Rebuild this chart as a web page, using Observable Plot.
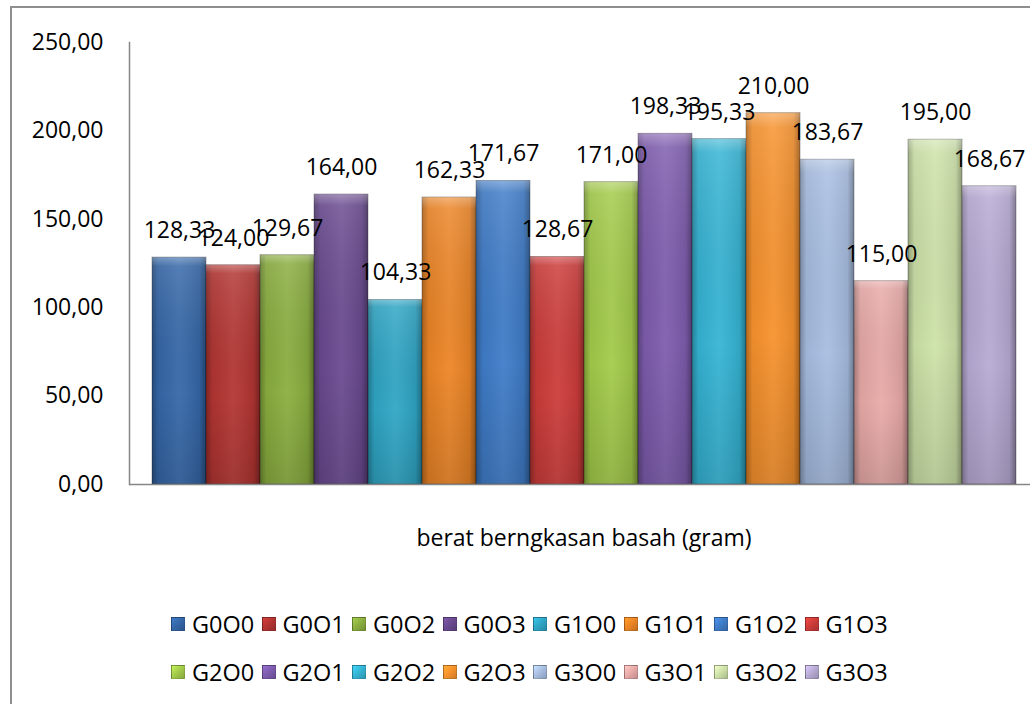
<!DOCTYPE html>
<html>
<head>
<meta charset="utf-8">
<script src="https://cdn.jsdelivr.net/npm/d3@7"></script>
<script src="https://cdn.jsdelivr.net/npm/@observablehq/plot@0.6"></script>
<style>
  html, body { margin: 0; padding: 0; background: #fff; overflow: hidden; width: 1030px; height: 704px; }
  #border { position: absolute; left: 10px; top: 6px; width: 1040px; height: 720px; border: 2px solid #8e8e8e; box-sizing: border-box; }
  #chart { position: absolute; left: 0; top: 0; }
  #legend { position: absolute; left: 171px; top: 600px; font-family: "Open Sans", sans-serif; font-size: 23.5px; color: #000; }
  .row { display: flex; height: 48px; align-items: center; }
  .item { display: flex; align-items: center; width: 90.5px; white-space: nowrap; }
  .sw { width: 14px; height: 14px; margin-right: 7px; box-sizing: border-box; border: 1px solid rgba(0,0,0,0.25); flex: none; }
</style>
</head>
<body>
<div id="border"></div>
<div id="chart"></div>
<div id="legend"></div>
<script>
const series = ["G0O0","G0O1","G0O2","G0O3","G1O0","G1O1","G1O2","G1O3","G2O0","G2O1","G2O2","G2O3","G3O0","G3O1","G3O2","G3O3"];
const values = [128.33,124.00,129.67,164.00,104.33,162.33,171.67,128.67,171.00,198.33,195.33,210.00,183.67,115.00,195.00,168.67];
const colors = ["#3567A8","#B33532","#8AAE3F","#6A4A90","#2FA6C5","#EC8526","#3F7CC8","#CC3C3A","#A3CB4A","#7E5CAE","#35B4D4","#F7922D","#A7BDE1","#E8AAA8","#CDE2A8","#B8AAD4"];
const yTicks = [0, 50, 100, 150, 200, 250];
const xLabel = "berat berngkasan basah (gram)";

const fmt = d => d.toFixed(2).replace(".", ",");
const data = series.map((s, i) => ({s, v: values[i]}));

const plot = Plot.plot({
  width: 1030,
  height: 600,
  marginTop: 42,
  marginLeft: 129,
  marginRight: 0,
  marginBottom: 116,
  style: {fontFamily: "Open Sans, sans-serif", fontSize: "23px", background: "transparent", color: "#000", overflow: "visible"},
  x: {domain: series, range: [148, 1020], padding: 0, axis: null},
  y: {domain: [0, 250], axis: null},
  color: {domain: series, range: colors},
  marks: [
    Plot.axisY({ticks: yTicks, tickSize: 0, tickPadding: 26, tickFormat: fmt, label: null, fontSize: 23}),
    Plot.barY(data, {x: "s", y: "v", fill: "s", stroke: "rgba(0,0,0,0.3)", strokeWidth: 1}),
    Plot.barY(data, {x: "s", y: "v", fill: "url(#shadeH)"}),
    Plot.barY(data, {x: "s", y: "v", fill: "url(#shadeV)"}),
    Plot.text(data, {x: "s", y: "v", text: d => fmt(d.v), dy: -27, fontSize: 23, fill: "#000"}),
    Plot.ruleY([0], {stroke: "#868686", strokeWidth: 1.5}),
    Plot.frame({anchor: "left", stroke: "#868686", strokeWidth: 1.5}),
    Plot.text([xLabel], {frameAnchor: "bottom", dy: 61, dx: 4, fontSize: 23, fill: "#000"})
  ]
});

const defs = `
<defs>
  <linearGradient id="shadeH" x1="0" y1="0" x2="1" y2="0">
    <stop offset="0" stop-color="#000" stop-opacity="0.28"/>
    <stop offset="0.12" stop-color="#000" stop-opacity="0.05"/>
    <stop offset="0.5" stop-color="#fff" stop-opacity="0.06"/>
    <stop offset="0.88" stop-color="#000" stop-opacity="0.08"/>
    <stop offset="1" stop-color="#000" stop-opacity="0.35"/>
  </linearGradient>
  <linearGradient id="shadeV" x1="0" y1="0" x2="0" y2="1">
    <stop offset="0" stop-color="#fff" stop-opacity="0.35"/>
    <stop offset="0.04" stop-color="#fff" stop-opacity="0.1"/>
    <stop offset="0.6" stop-color="#000" stop-opacity="0"/>
    <stop offset="1" stop-color="#000" stop-opacity="0.12"/>
  </linearGradient>
</defs>`;
plot.insertAdjacentHTML("afterbegin", defs);
document.getElementById("chart").appendChild(plot);

// Legend
const legend = document.getElementById("legend");
[series.slice(0, 8), series.slice(8)].forEach((rowSeries, r) => {
  const row = document.createElement("div");
  row.className = "row";
  rowSeries.forEach((s, j) => {
    const item = document.createElement("div");
    item.className = "item";
    const sw = document.createElement("span");
    sw.className = "sw";
    const c = colors[r * 8 + j];
    sw.style.background = `linear-gradient(135deg, ${d3.color(c).brighter(0.5)}, ${c} 50%, ${d3.color(c).darker(0.5)})`;
    const t = document.createElement("span");
    t.textContent = s;
    item.appendChild(sw);
    item.appendChild(t);
    row.appendChild(item);
  });
  legend.appendChild(row);
});
</script>
</body>
</html>
